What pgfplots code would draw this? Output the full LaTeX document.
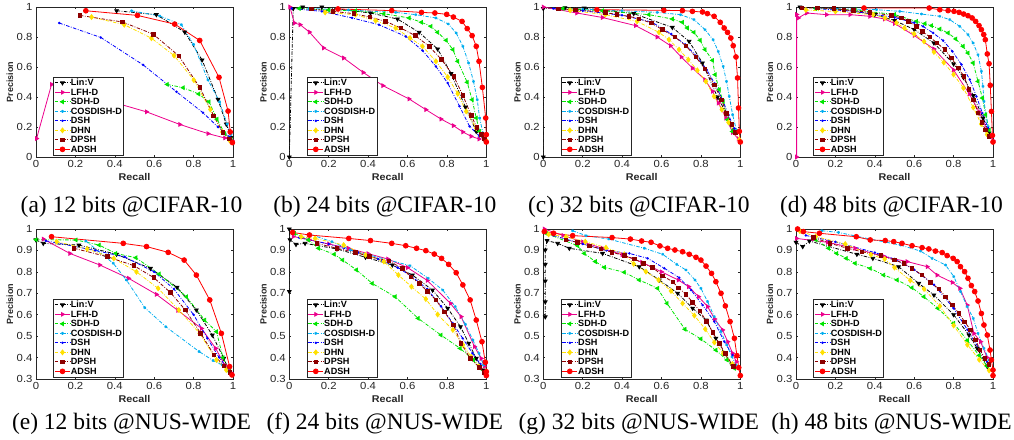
\documentclass[border=0pt]{standalone}
\usepackage{fontspec}
\setmainfont{Liberation Serif}
\newfontfamily\plotfont[FakeStretch=1.1]{Liberation Sans}
\newfontfamily\plainsans{Liberation Sans}
\usepackage{pgfplots}
\pgfplotsset{compat=1.18}
\definecolor{sdhgreen}{rgb}{0,0.9,0}
\definecolor{dhnyellow}{rgb}{1,0.88,0}
\definecolor{dpshred}{rgb}{0.55,0,0}
\definecolor{axgray}{rgb}{0.15,0.15,0.15}
\newcommand\tickfont{\plotfont\fontsize{10.3}{10.3}\selectfont}
\newcommand\legfont{\plainsans\bfseries\fontsize{9.1}{9.1}\selectfont}
\newcommand\xlabfont{\plotfont\bfseries\fontsize{9.8}{10}\selectfont}
\newcommand\ylabfont{\plainsans\bfseries\fontsize{9}{10}\selectfont}
\newcommand\capfont{\fontsize{23.5}{24}\selectfont}
\pgfplotsset{
  dd/.style={dash pattern=on 3.5pt off 1.5pt on 0.8pt off 1.5pt},
  sLinV/.style={color=black, line width=0.8pt, dd, mark=triangle*, mark size=2.1pt, mark options={solid, rotate=180}},
  sLFH/.style={color=magenta, line width=0.8pt, mark=triangle*, mark size=2.1pt, mark options={solid, rotate=-90}},
  sSDH/.style={color=sdhgreen, line width=0.8pt, dd, mark=triangle*, mark size=2.1pt, mark options={solid, rotate=90}},
  sCOS/.style={color=cyan, line width=0.8pt, dd, mark=asterisk, mark size=1.4pt, mark options={solid}},
  sDSH/.style={color=blue, line width=0.8pt, dd, mark=*, mark size=0.8pt, mark options={solid}},
  sDHN/.style={color=dhnyellow, line width=0.8pt, dd, mark=diamond*, mark size=2.4pt, mark options={solid}},
  sDPSH/.style={color=dpshred, line width=0.8pt, dd, mark=square*, mark size=1.8pt, mark options={solid}},
  sADSH/.style={color=red, line width=0.8pt, mark=*, mark size=2.4pt, mark options={solid}},
  myaxis/.style={
    scale only axis, width=197pt, height=150pt, anchor=south west,
    xmin=0, xmax=1, xtick={0,0.2,0.4,0.6,0.8,1},
    tick align=inside, major tick length=2pt,
    axis line style={draw=axgray, line width=0.5pt},
    every tick/.style={axgray, line width=0.5pt},
    tick label style={font=\tickfont, text=axgray},
    /pgf/number format/assume math mode=true,
    xlabel=Recall, ylabel=Precision,
    xlabel style={font=\xlabfont, text=axgray, at={(axis description cs:0.5,-0.133)}, anchor=center},
    ylabel style={font=\ylabfont, text=axgray, at={(axis description cs:-0.132,0.5)}, anchor=center},
    legend cell align=left,
    legend style={at={(0.088,0.011)}, anchor=south west, draw=axgray, line width=0.5pt, fill=white,
      inner sep=1pt, row sep=0pt, font=\legfont,
      nodes={inner sep=0.5pt, text height=7pt, text depth=1.5pt, font=\legfont}},
    legend image code/.code={\draw[mark repeat=2,mark phase=2] plot coordinates {(0pt,0pt) (7.5pt,0pt) (15pt,0pt)};},
  },
  row1/.style={ymin=0, ymax=1, ytick={0,0.2,0.4,0.6,0.8,1}},
  row2/.style={ymin=0.3, ymax=1, ytick={0.3,0.4,0.5,0.6,0.7,0.8,0.9,1}},
}
\newcommand\legs{\legend{Lin:V,LFH-D,SDH-D,COSDISH-D,DSH,DHN,DPSH,ADSH}}
\begin{document}
\begin{tikzpicture}
% ---------- (a)
\begin{axis}[myaxis,row1,at={(36pt,-157pt)}]
\addplot[sLinV] coordinates {(0.409,0.975)(0.611,0.949)(0.755,0.833)(0.843,0.647)(0.924,0.384)(0.966,0.219)(0.99,0.13)};
\addplot[sLFH] coordinates {(0.003,0.123)(0.079,0.484)(0.3,0.40)(0.561,0.301)(0.730,0.217)(0.873,0.156)(0.958,0.127)(0.995,0.11)};
\addplot[sSDH] coordinates {(0.666,0.484)(0.747,0.462)(0.826,0.42)(0.878,0.368)(0.919,0.252)(0.958,0.156)(0.99,0.12)};
\addplot[sCOS] coordinates {(0.485,0.975)(0.628,0.94)(0.738,0.882)(0.80,0.75)(0.873,0.513)(0.932,0.368)(0.97,0.22)(0.99,0.15)};
\addplot[sDSH] coordinates {(0.118,0.893)(0.329,0.797)(0.544,0.614)(0.713,0.435)(0.848,0.295)(0.924,0.20)(0.983,0.134)};
\addplot[sDHN] coordinates {(0.282,0.933)(0.448,0.882)(0.586,0.792)(0.701,0.676)(0.801,0.513)(0.885,0.317)(0.946,0.167)(0.983,0.11)};
\addplot[sDPSH] coordinates {(0.223,0.944)(0.439,0.900)(0.595,0.819)(0.725,0.674)(0.831,0.464)(0.902,0.275)(0.949,0.163)(0.983,0.12)};
\addplot[sADSH] coordinates {(0.253,0.975)(0.515,0.944)(0.704,0.886)(0.831,0.777)(0.929,0.531)(0.975,0.306)(0.986,0.167)(0.997,0.096)};
\legs
\end{axis}
% ---------- (b)
\begin{axis}[myaxis,row1,at={(289.3pt,-157pt)}]
\addplot[sLinV] coordinates {(0,0)(0.02,0.99)(0.068,1.0)(0.165,1.0)(0.412,0.96)(0.549,0.92)(0.659,0.831)(0.753,0.72)(0.821,0.556)(0.894,0.333)(0.949,0.171)(0.99,0.115)};
\addplot[sLFH] coordinates {(0.003,1.0)(0.026,0.893)(0.055,0.882)(0.102,0.833)(0.174,0.727)(0.276,0.66)(0.375,0.564)(0.475,0.476)(0.608,0.387)(0.693,0.316)(0.770,0.253)(0.833,0.209)(0.881,0.167)(0.923,0.138)(0.963,0.12)};
\addplot[sSDH] coordinates {(0.05,0.99)(0.2,0.98)(0.336,0.975)(0.48,0.955)(0.608,0.927)(0.671,0.898)(0.719,0.871)(0.753,0.831)(0.796,0.778)(0.830,0.716)(0.855,0.638)(0.903,0.498)(0.928,0.382)(0.949,0.26)(0.966,0.171)};
\addplot[sCOS] coordinates {(0.1,0.99)(0.3,0.98)(0.54,0.964)(0.642,0.949)(0.744,0.927)(0.807,0.887)(0.847,0.827)(0.881,0.738)(0.91,0.627)(0.935,0.504)(0.954,0.382)(0.966,0.26)(0.983,0.16)};
\addplot[sDSH] coordinates {(0.012,0.99)(0.165,0.971)(0.319,0.927)(0.455,0.882)(0.591,0.804)(0.676,0.71)(0.744,0.604)(0.804,0.493)(0.864,0.338)(0.915,0.204)(0.966,0.138)};
\addplot[sDHN] coordinates {(0.182,0.964)(0.336,0.949)(0.438,0.909)(0.54,0.86)(0.613,0.793)(0.676,0.738)(0.744,0.638)(0.804,0.533)(0.855,0.422)(0.898,0.304)(0.949,0.193)(0.997,0.115)};
\addplot[sDPSH] coordinates {(0.111,0.987)(0.221,0.971)(0.327,0.956)(0.409,0.933)(0.489,0.904)(0.566,0.86)(0.639,0.809)(0.710,0.738)(0.773,0.649)(0.835,0.538)(0.881,0.411)(0.923,0.278)(0.952,0.196)(0.974,0.149)(0.99,0.12)};
\addplot[sADSH] coordinates {(0.247,0.987)(0.52,0.976)(0.671,0.964)(0.739,0.96)(0.799,0.951)(0.833,0.933)(0.877,0.904)(0.903,0.856)(0.928,0.809)(0.949,0.738)(0.963,0.638)(0.980,0.464)(0.997,0.26)(1.0,0.149)(1.0,0.1)};
\legs
\end{axis}
% ---------- (c)
\begin{axis}[myaxis,row1,at={(543.3pt,-157pt)}]
\addplot[sLinV] coordinates {(0,0)(0,0.99)(0.11,0.995)(0.207,0.993)(0.459,0.956)(0.655,0.864)(0.74,0.771)(0.808,0.627)(0.884,0.40)(0.93,0.29)(0.97,0.18)};
\addplot[sLFH] coordinates {(0,1.0)(0.17,0.96)(0.30,0.93)(0.468,0.876)(0.578,0.8)(0.646,0.742)(0.70,0.667)(0.757,0.593)(0.82,0.516)(0.859,0.438)(0.889,0.36)(0.927,0.26)(0.961,0.164)(0.99,0.12)};
\addplot[sSDH] coordinates {(0.1,0.99)(0.3,0.975)(0.536,0.949)(0.655,0.92)(0.706,0.898)(0.731,0.86)(0.765,0.831)(0.796,0.778)(0.821,0.716)(0.859,0.644)(0.872,0.549)(0.893,0.449)(0.913,0.371)(0.935,0.249)(0.96,0.17)};
\addplot[sCOS] coordinates {(0.2,0.985)(0.4,0.975)(0.578,0.964)(0.697,0.949)(0.765,0.916)(0.821,0.849)(0.862,0.782)(0.888,0.704)(0.913,0.604)(0.930,0.504)(0.944,0.404)(0.961,0.282)(0.98,0.18)};
\addplot[sDSH] coordinates {(0.05,0.99)(0.2,0.975)(0.4,0.945)(0.55,0.90)(0.65,0.82)(0.72,0.75)(0.78,0.67)(0.83,0.58)(0.87,0.49)(0.91,0.38)(0.94,0.28)(0.97,0.19)};
\addplot[sDHN] coordinates {(0.136,0.978)(0.315,0.949)(0.476,0.904)(0.587,0.831)(0.638,0.782)(0.689,0.716)(0.736,0.649)(0.782,0.578)(0.825,0.504)(0.867,0.404)(0.906,0.316)(0.94,0.231)(0.974,0.164)(0.995,0.116)};
\addplot[sDPSH] coordinates {(0.077,0.987)(0.162,0.982)(0.315,0.964)(0.374,0.949)(0.434,0.938)(0.485,0.922)(0.548,0.893)(0.604,0.849)(0.668,0.8)(0.723,0.742)(0.774,0.667)(0.821,0.587)(0.867,0.482)(0.905,0.382)(0.930,0.289)(0.957,0.216)(0.974,0.164)};
\addplot[sADSH] coordinates {(0.272,0.982)(0.612,0.978)(0.706,0.976)(0.757,0.971)(0.808,0.967)(0.833,0.956)(0.867,0.938)(0.898,0.898)(0.918,0.86)(0.935,0.831)(0.952,0.793)(0.964,0.742)(0.978,0.667)(0.986,0.527)(0.991,0.327)(0.995,0.171)(1.0,0.1)};
\legs
\end{axis}
% ---------- (d)
\begin{axis}[myaxis,row1,at={(796pt,-157pt)}]
\addplot[sLinV] coordinates {(0.02,1.0)(0.2,0.99)(0.4,0.95)(0.5,0.91)(0.6,0.85)(0.7,0.76)(0.8,0.62)(0.85,0.53)(0.9,0.41)(0.95,0.26)(0.98,0.16)};
\addplot[sLFH] coordinates {(0.003,0.0)(0.003,0.95)(0.012,0.927)(0.054,0.96)(0.155,0.949)(0.274,0.949)(0.375,0.938)(0.45,0.92)(0.5,0.89)(0.6,0.81)(0.7,0.72)(0.8,0.58)(0.88,0.42)(0.93,0.3)(0.97,0.18)(1.0,0.11)};
\addplot[sSDH] coordinates {(0.1,0.99)(0.3,0.98)(0.5,0.95)(0.611,0.904)(0.654,0.889)(0.688,0.876)(0.73,0.853)(0.772,0.827)(0.811,0.787)(0.848,0.738)(0.873,0.693)(0.899,0.627)(0.924,0.504)(0.946,0.393)(0.963,0.282)(0.98,0.18)};
\addplot[sCOS] coordinates {(0.2,0.99)(0.409,0.982)(0.527,0.971)(0.637,0.953)(0.73,0.938)(0.78,0.916)(0.831,0.871)(0.873,0.816)(0.899,0.76)(0.924,0.682)(0.941,0.571)(0.949,0.471)(0.954,0.371)(0.975,0.204)};
\addplot[sDSH] coordinates {(0.1,0.99)(0.3,0.97)(0.5,0.93)(0.6,0.895)(0.645,0.871)(0.696,0.827)(0.747,0.776)(0.794,0.704)(0.84,0.616)(0.882,0.516)(0.916,0.404)(0.946,0.293)(0.975,0.193)};
\addplot[sDHN] coordinates {(0.05,0.98)(0.2,0.97)(0.392,0.949)(0.451,0.927)(0.51,0.894)(0.55,0.86)(0.6,0.82)(0.65,0.77)(0.7,0.70)(0.75,0.63)(0.8,0.55)(0.85,0.46)(0.9,0.33)(0.94,0.22)(0.97,0.15)};
\addplot[sDPSH] coordinates {(0.029,0.993)(0.11,0.993)(0.193,0.989)(0.243,0.982)(0.29,0.976)(0.375,0.964)(0.485,0.944)(0.535,0.927)(0.57,0.904)(0.611,0.871)(0.642,0.838)(0.679,0.8)(0.716,0.76)(0.755,0.716)(0.789,0.66)(0.823,0.593)(0.853,0.538)(0.878,0.449)(0.899,0.382)(0.924,0.293)(0.944,0.231)(0.961,0.182)(0.98,0.138)};
\addplot[sADSH] coordinates {(0.345,0.993)(0.676,0.993)(0.73,0.982)(0.772,0.976)(0.802,0.971)(0.828,0.964)(0.851,0.953)(0.873,0.942)(0.894,0.927)(0.912,0.904)(0.929,0.876)(0.941,0.849)(0.953,0.816)(0.961,0.782)(0.971,0.687)(0.98,0.622)(0.986,0.478)(0.992,0.304)(0.997,0.144)(1.0,0.1)};
\legs
\end{axis}
% ---------- (e)
\begin{axis}[myaxis,row2,at={(36pt,-379pt)}]
\addplot[sLinV] coordinates {(0,0.949)(0.037,0.933)(0.218,0.925)(0.409,0.882)(0.581,0.816)(0.716,0.728)(0.814,0.622)(0.895,0.505)(0.953,0.396)(0.983,0.334)};
\addplot[sLFH] coordinates {(0.037,0.953)(0.172,0.886)(0.324,0.832)(0.47,0.77)(0.611,0.695)(0.72,0.62)(0.840,0.536)(0.912,0.443)(0.958,0.365)(0.99,0.33)};
\addplot[sSDH] coordinates {(0.0,0.95)(0.203,0.949)(0.321,0.925)(0.405,0.886)(0.507,0.866)(0.625,0.79)(0.764,0.684)(0.856,0.575)(0.916,0.521)(0.949,0.4)(0.983,0.334)};
\addplot[sCOS] coordinates {(0.253,0.944)(0.392,0.84)(0.459,0.762)(0.552,0.633)(0.659,0.544)(0.828,0.428)(0.899,0.386)(0.946,0.365)(0.983,0.334)};
\addplot[sDSH] coordinates {(0.05,0.945)(0.3,0.90)(0.45,0.87)(0.6,0.80)(0.7,0.72)(0.8,0.60)(0.87,0.49)(0.93,0.40)(0.98,0.34)};
\addplot[sDHN] coordinates {(0.105,0.941)(0.26,0.907)(0.395,0.863)(0.51,0.80)(0.62,0.723)(0.725,0.622)(0.831,0.513)(0.916,0.389)(0.966,0.342)};
\addplot[sDPSH] coordinates {(0.193,0.91)(0.361,0.871)(0.497,0.829)(0.598,0.773)(0.682,0.704)(0.758,0.622)(0.836,0.513)(0.904,0.412)(0.953,0.362)(0.985,0.33)};
\addplot[sADSH] coordinates {(0.079,0.964)(0.443,0.933)(0.561,0.918)(0.671,0.891)(0.752,0.855)(0.814,0.785)(0.882,0.669)(0.941,0.513)(0.983,0.358)(0.995,0.319)};
\legs
\end{axis}
% ---------- (f)
\begin{axis}[myaxis,row2,at={(289.3pt,-379pt)}]
\addplot[sLinV] coordinates {(0,0.708)(0,1.0)(0.003,0.95)(0.034,0.928)(0.08,0.933)(0.242,0.907)(0.387,0.868)(0.523,0.832)(0.625,0.785)(0.727,0.715)(0.804,0.63)(0.869,0.544)(0.911,0.467)(0.949,0.396)(0.983,0.342)};
\addplot[sLFH] coordinates {(0.02,0.965)(0.1,0.95)(0.2,0.93)(0.3,0.91)(0.4,0.885)(0.5,0.86)(0.6,0.82)(0.7,0.76)(0.818,0.653)(0.872,0.591)(0.94,0.451)(0.974,0.396)(0.99,0.36)};
\addplot[sSDH] coordinates {(0.026,0.98)(0.097,0.949)(0.148,0.91)(0.228,0.882)(0.271,0.855)(0.341,0.809)(0.421,0.746)(0.537,0.684)(0.654,0.583)(0.770,0.505)(0.867,0.443)(0.935,0.389)(0.969,0.35)};
\addplot[sCOS] coordinates {(0.106,0.975)(0.216,0.941)(0.31,0.902)(0.404,0.879)(0.506,0.855)(0.613,0.829)(0.705,0.77)(0.779,0.715)(0.842,0.638)(0.894,0.555)(0.932,0.482)(0.963,0.42)(0.986,0.365)};
\addplot[sDSH] coordinates {(0.05,0.96)(0.2,0.93)(0.35,0.89)(0.45,0.86)(0.55,0.82)(0.62,0.78)(0.7,0.72)(0.77,0.64)(0.83,0.56)(0.88,0.49)(0.93,0.42)(0.97,0.37)};
\addplot[sDHN] coordinates {(0.06,0.964)(0.131,0.956)(0.276,0.925)(0.387,0.879)(0.48,0.848)(0.554,0.785)(0.62,0.731)(0.693,0.673)(0.753,0.601)(0.83,0.529)(0.881,0.46)(0.923,0.404)(0.963,0.358)};
\addplot[sDPSH] coordinates {(0.14,0.933)(0.242,0.91)(0.336,0.891)(0.407,0.871)(0.506,0.851)(0.574,0.816)(0.617,0.777)(0.659,0.746)(0.702,0.708)(0.744,0.669)(0.787,0.614)(0.833,0.552)(0.872,0.467)(0.918,0.396)(0.966,0.353)(0.99,0.33)};
\addplot[sADSH] coordinates {(0.017,0.984)(0.102,0.972)(0.302,0.956)(0.412,0.946)(0.520,0.933)(0.591,0.922)(0.646,0.91)(0.693,0.899)(0.736,0.883)(0.773,0.863)(0.809,0.835)(0.847,0.796)(0.881,0.739)(0.918,0.669)(0.949,0.575)(0.978,0.474)(0.995,0.378)(1.0,0.334)(1.0,0.316)};
\legs
\end{axis}
% ---------- (g)
\begin{axis}[myaxis,row2,at={(543.3pt,-379pt)}]
\addplot[sLinV] coordinates {(0.01,0.59)(0.01,0.66)(0.01,0.757)(0.01,0.835)(0.01,0.902)(0.019,0.946)(0.073,0.933)(0.132,0.91)(0.301,0.886)(0.487,0.824)(0.589,0.762)(0.682,0.7)(0.758,0.63)(0.826,0.575)(0.876,0.49)(0.919,0.42)(0.958,0.365)};
\addplot[sLFH] coordinates {(0.005,1.0)(0.1,0.97)(0.2,0.94)(0.3,0.91)(0.4,0.88)(0.5,0.845)(0.6,0.80)(0.685,0.762)(0.738,0.731)(0.788,0.684)(0.834,0.638)(0.87,0.58)(0.91,0.529)(0.936,0.474)(0.961,0.42)(0.98,0.38)};
\addplot[sSDH] coordinates {(0.014,0.98)(0.174,0.922)(0.208,0.886)(0.264,0.848)(0.31,0.821)(0.411,0.798)(0.487,0.762)(0.58,0.723)(0.628,0.653)(0.719,0.532)(0.80,0.487)(0.876,0.435)(0.932,0.389)(0.97,0.35)};
\addplot[sCOS] coordinates {(0.149,0.992)(0.217,0.969)(0.332,0.953)(0.513,0.91)(0.606,0.882)(0.677,0.835)(0.724,0.809)(0.77,0.762)(0.8,0.723)(0.834,0.661)(0.868,0.591)(0.902,0.521)(0.931,0.459)(0.958,0.404)(0.978,0.365)};
\addplot[sDSH] coordinates {(0.05,0.97)(0.2,0.93)(0.32,0.90)(0.437,0.886)(0.53,0.863)(0.614,0.817)(0.69,0.773)(0.75,0.715)(0.809,0.645)(0.868,0.568)(0.919,0.474)(0.961,0.412)};
\addplot[sDHN] coordinates {(0.027,0.975)(0.115,0.964)(0.213,0.941)(0.318,0.913)(0.411,0.882)(0.459,0.837)(0.521,0.801)(0.585,0.762)(0.648,0.711)(0.707,0.653)(0.767,0.596)(0.822,0.533)(0.868,0.471)(0.914,0.42)(0.96,0.37)};
\addplot[sDPSH] coordinates {(0.115,0.949)(0.174,0.938)(0.234,0.921)(0.293,0.907)(0.349,0.891)(0.411,0.876)(0.462,0.86)(0.508,0.84)(0.555,0.821)(0.606,0.781)(0.657,0.754)(0.685,0.726)(0.724,0.695)(0.758,0.658)(0.795,0.617)(0.829,0.568)(0.86,0.518)(0.893,0.466)(0.924,0.42)(0.964,0.358)};
\addplot[sADSH] coordinates {(0.005,0.988)(0.052,0.98)(0.149,0.969)(0.349,0.96)(0.442,0.953)(0.499,0.944)(0.547,0.938)(0.592,0.921)(0.631,0.91)(0.668,0.902)(0.707,0.894)(0.741,0.882)(0.775,0.868)(0.800,0.855)(0.826,0.827)(0.854,0.793)(0.876,0.754)(0.902,0.7)(0.924,0.641)(0.948,0.568)(0.97,0.49)(0.983,0.409)(0.992,0.353)(1.0,0.316)};
\legs
\end{axis}
% ---------- (h)
\begin{axis}[myaxis,row2,at={(796pt,-379pt)}]
\addplot[sLinV] coordinates {(0,0.938)(0.034,0.918)(0.068,0.944)(0.309,0.882)(0.39,0.863)(0.521,0.824)(0.623,0.746)(0.7,0.692)(0.8,0.60)(0.878,0.505)(0.92,0.443)(0.971,0.358)};
\addplot[sLFH] coordinates {(0.003,0.956)(0.16,0.938)(0.3,0.91)(0.45,0.87)(0.564,0.848)(0.666,0.824)(0.716,0.785)(0.793,0.751)(0.832,0.723)(0.869,0.645)(0.903,0.513)(0.937,0.474)(0.97,0.40)};
\addplot[sSDH] coordinates {(0.1,0.95)(0.165,0.91)(0.207,0.886)(0.255,0.863)(0.3,0.84)(0.377,0.816)(0.445,0.785)(0.513,0.762)(0.589,0.726)(0.649,0.684)(0.72,0.63)(0.8,0.56)(0.87,0.48)(0.93,0.41)(0.97,0.36)};
\addplot[sCOS] coordinates {(0.131,0.992)(0.216,0.984)(0.377,0.953)(0.53,0.925)(0.632,0.897)(0.691,0.863)(0.759,0.832)(0.801,0.778)(0.835,0.708)(0.869,0.638)(0.9,0.583)(0.924,0.513)(0.954,0.443)(0.98,0.389)};
\addplot[sDSH] coordinates {(0.05,0.97)(0.2,0.94)(0.4,0.89)(0.5,0.86)(0.6,0.81)(0.7,0.74)(0.8,0.63)(0.87,0.53)(0.93,0.44)(0.97,0.38)};
\addplot[sDHN] coordinates {(0.02,0.99)(0.1,0.965)(0.25,0.93)(0.38,0.88)(0.45,0.86)(0.5,0.82)(0.58,0.76)(0.65,0.72)(0.73,0.64)(0.8,0.55)(0.87,0.46)(0.93,0.39)(0.98,0.34)};
\addplot[sDPSH] coordinates {(0.088,0.961)(0.173,0.933)(0.261,0.91)(0.334,0.894)(0.431,0.876)(0.499,0.855)(0.547,0.84)(0.589,0.816)(0.64,0.785)(0.683,0.751)(0.725,0.72)(0.759,0.684)(0.793,0.645)(0.827,0.606)(0.856,0.567)(0.886,0.529)(0.912,0.482)(0.934,0.435)(0.958,0.396)(0.98,0.368)};
\addplot[sADSH] coordinates {(0.008,1.0)(0.037,0.988)(0.119,0.98)(0.306,0.964)(0.377,0.949)(0.453,0.946)(0.496,0.941)(0.538,0.933)(0.589,0.922)(0.640,0.913)(0.674,0.907)(0.708,0.897)(0.742,0.89)(0.767,0.876)(0.798,0.863)(0.818,0.848)(0.835,0.824)(0.856,0.801)(0.873,0.77)(0.890,0.736)(0.907,0.708)(0.924,0.664)(0.941,0.606)(0.954,0.552)(0.971,0.505)(0.985,0.435)(0.992,0.389)(1.0,0.342)(1.0,0.316)};
\legs
\end{axis}
% ---------- captions
\node[anchor=base, font=\capfont] at (131.5pt,-212pt) {(a) 12 bits @CIFAR-10};
\node[anchor=base, font=\capfont] at (384.8pt,-212pt) {(b) 24 bits @CIFAR-10};
\node[anchor=base, font=\capfont] at (638.8pt,-212pt) {(c) 32 bits @CIFAR-10};
\node[anchor=base, font=\capfont] at (891.5pt,-212pt) {(d) 48 bits @CIFAR-10};
\node[anchor=base, font=\capfont] at (131.5pt,-429pt) {(e) 12 bits @NUS-WIDE};
\node[anchor=base, font=\capfont] at (384.8pt,-429pt) {(f) 24 bits @NUS-WIDE};
\node[anchor=base, font=\capfont] at (638.8pt,-429pt) {(g) 32 bits @NUS-WIDE};
\node[anchor=base, font=\capfont] at (891.5pt,-429pt) {(h) 48 bits @NUS-WIDE};
\pgfresetboundingbox
\useasboundingbox (0pt,0pt) rectangle (1014pt,-439pt);
\end{tikzpicture}
\end{document}
